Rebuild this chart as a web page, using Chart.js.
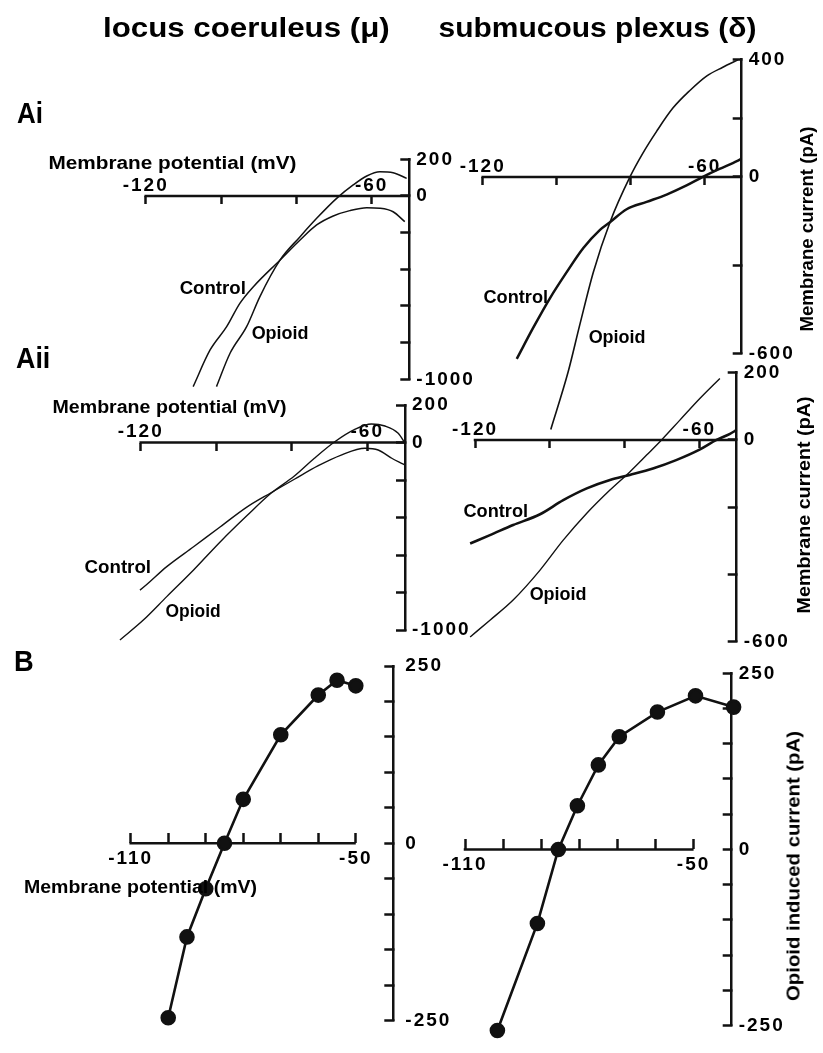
<!DOCTYPE html>
<html>
<head>
<meta charset="utf-8">
<script src="https://cdn.jsdelivr.net/npm/chart.js@4.4.1/dist/chart.umd.min.js"></script>
<style>
html, body { margin: 0; padding: 0; background: #fff; }
#page { position: relative; width: 823px; height: 1053px; overflow: hidden; background: #fff; }
#page canvas { position: absolute; left: 0; top: 0; }
.lbl { position: absolute; white-space: nowrap; font-family: 'Liberation Sans', Arial, sans-serif; font-weight: bold; line-height: 1; color: #000; }
</style>
</head>
<body>
<div id="page"></div>
<script>
// membrane potential (mV) / current (pA)

// locus coeruleus, Ai
var lcAiControlMv = [-107.4, -102.9, -98.5, -95.0, -91.4, -84.3, -79.0, -74.6, -70.2, -65.8, -61.3, -57.8, -54.3, -51.2];
var lcAiControlPa = [-1040, -840, -713, -586, -495, -349, -240, -158, -109, -80, -64, -67, -86, -140];
var lcAiOpioidMv = [-101.2, -97.6, -93.2, -89.7, -84.3, -79.0, -74.6, -69.3, -64.9, -61.3, -57.8, -54.3, -50.7];
var lcAiOpioidPa = [-1040, -858, -713, -550, -349, -222, -122, -13, 60, 109, 132, 127, 96];

// submucous plexus, Ai
var spAiControlMv = [-110.8, -106.3, -101.8, -97.3, -92.8, -88.3, -85.6, -81.1, -75.7, -70.3, -64.9, -60.5, -56.0, -52.4, -50.1];
var spAiControlPa = [-619, -512, -412, -324, -242, -180, -154, -110, -85, -60, -29, 0, 27, 47, 61];
var spAiOpioidMv = [-101.6, -96.9, -93.7, -90.1, -85.6, -80.2, -76.7, -73.0, -68.6, -64.0, -59.5, -55.1, -51.0];
var spAiOpioidPa = [-859, -663, -500, -324, -154, 0, 81, 155, 234, 294, 343, 373, 398];

// locus coeruleus, Aii
var lcAiiControlMv = [-125.5, -120.2, -113.1, -106.0, -98.9, -91.7, -85.5, -79.3, -73.1, -66.9, -60.6, -57.1, -53.5, -50.9, -50];
var lcAiiControlPa = [-849, -787, -662, -556, -449, -342, -268, -196, -125, -67, -31, -40, -84, -111, -120];
var lcAiiOpioidMv = [-125.5, -119.3, -113.1, -106.0, -98.9, -91.7, -85.5, -79.3, -74.0, -68.6, -63.3, -58.9, -55.3, -51.8, -50];
var lcAiiOpioidPa = [-1053, -947, -822, -680, -529, -387, -271, -179, -84, 4, 70, 99, 88, 49, -4];

// submucous plexus, Aii
var spAiiControlMv = [-121.3, -116.0, -109.8, -102.6, -96.4, -90.1, -83.9, -78.6, -72.4, -66.2, -59.8, -55.4, -51.8, -50.0];
var spAiiControlPa = [-308, -283, -253, -221, -179, -144, -119, -104, -85, -60, -28, 0, 18, 30];
var spAiiOpioidMv = [-121.3, -116.0, -109.8, -102.6, -96.4, -90.1, -83.9, -78.6, -74.1, -70.1, -65.2, -59.8, -54.5];
var spAiiOpioidPa = [-586, -536, -476, -387, -298, -218, -149, -95, -45, 0, 59, 124, 183];

// B: opioid induced current
var lcBMv = [-100, -95, -90, -85, -80, -70, -60, -55, -50];
var lcBPa = [-246, -132, -64, 0, 62, 153, 209, 230, 222];
var spBMv = [-101.5, -91, -85.5, -80.5, -75, -69.5, -59.5, -49.5, -39.5];
var spBPa = [-257, -105, 0, 62, 120, 160, 195, 218, 202];

// ticks and tick labels
var aTicksMv = [-120, -100, -80, -60];
var aLabelsMv = [-120, -60];
var bTicksMv = [-110, -100, -90, -80, -70, -60, -50];
var bLabelsMv = [-110, -50];
var lcTicksPa = [200, 0, -200, -400, -600, -800, -1000];
var lcLabelsPa = [200, 0, -1000];
var spAiTicksPa = [400, 200, 0, -300, -600];
var spAiLabelsPa = [400, 0, -600];
var spAiiTicksPa = [200, 0, -200, -400, -600];
var spAiiLabelsPa = [200, 0, -600];
var bTicksPa = [250, 200, 150, 100, 50, 0, -50, -100, -150, -200, -250];
var bLabelsPa = [250, 0, -250];

var W = 823, H = 1053, YAXIS_W = 72;
var page = document.getElementById('page');

Chart.defaults.font.family = "'Liberation Sans', Arial, sans-serif";
Chart.defaults.font.size = 19;
Chart.defaults.font.weight = 'bold';
Chart.defaults.color = '#000';

function pts(xs, ys) {
	return xs.map(function(x, i) { return {x: x, y: ys[i]}; });
}

function trace(xs, ys, width) {
	return {data: pts(xs, ys), borderColor: '#111', borderWidth: width, pointRadius: 0,
		cubicInterpolationMode: 'monotone', clip: false, fill: false};
}

function dots(xs, ys) {
	return {data: pts(xs, ys), borderColor: '#111', borderWidth: 2.6, tension: 0,
		pointRadius: 6.5, pointBackgroundColor: '#111', pointBorderColor: '#111', clip: false, fill: false};
}

//wide tick lettering like the original
var spacing = {id: 'spacing', beforeDraw: function(chart) { chart.ctx.letterSpacing = '2px'; }};

//x axis line drawn at zero between two potentials
function axisLine(from, to) {
	return {
		id: 'axisLine',
		beforeDatasetsDraw: function(chart) {
			var xs = chart.scales.x, y0 = chart.scales.y.getPixelForValue(0), c = chart.ctx;
			c.save();
			c.strokeStyle = '#111';
			c.lineWidth = 2.5;
			c.beginPath();
			c.moveTo(xs.getPixelForValue(from) - 1.25, y0);
			c.lineTo(xs.getPixelForValue(to), y0);
			c.stroke();
			c.restore();
		}
	};
}

function only(list) {
	return function(v) { return list.indexOf(v) >= 0 ? String(v) : ''; };
}

function panel(p) {
	var cv = document.createElement('canvas');
	cv.width = W;
	cv.height = H;
	page.appendChild(cv);
	return new Chart(cv, {
		type: 'line',
		data: {datasets: p.sets},
		options: {
			responsive: false, animation: false, events: [],
			layout: {padding: {left: p.box[0], top: p.box[1], right: W - p.box[2] - YAXIS_W, bottom: H - p.box[3]}},
			plugins: {legend: {display: false}, tooltip: {enabled: false}},
			scales: {
				x: {
					type: 'linear', position: {y: 0}, min: p.xMin, max: p.xMax,
					border: {display: false},
					grid: {drawOnChartArea: false, tickLength: p.xTick, tickWidth: 2.5, tickColor: '#111'},
					ticks: {autoSkip: false, maxRotation: 0, padding: p.xPad, callback: only(p.xLabels)},
					afterBuildTicks: function(s) { s.ticks = p.xTicks.map(function(v) { return {value: v}; }); }
				},
				y: {
					type: 'linear', position: 'right', min: p.yMin, max: p.yMax,
					border: {display: true, color: '#111', width: 2.5},
					grid: {drawOnChartArea: false, tickLength: -9, tickWidth: 2.5, tickColor: '#111'},
					ticks: {autoSkip: false, padding: p.yGap + 9, callback: only(p.yLabels)},
					afterBuildTicks: function(s) { s.ticks = p.yTicks.map(function(v) { return {value: v}; }); },
					afterFit: function(s) { s.width = YAXIS_W; }
				}
			}
		},
		plugins: [spacing, axisLine(p.xTicks[0], p.lineEnd)]
	});
}

// A panels: ticks down, labels above the axis
var aPad = -10.5 - 8 - 11.4;
// B panels: ticks up, labels below
var bPad = 15 + 10 - 11.4;

panel({box: [145.7, 159.3, 409.3, 379.3], xMin: -120, xMax: -50, yMin: -1000, yMax: 200,
	xTicks: aTicksMv, xLabels: aLabelsMv, yTicks: lcTicksPa, yLabels: lcLabelsPa,
	xTick: 8, xPad: aPad, yGap: 7, lineEnd: -50,
	sets: [trace(lcAiControlMv, lcAiControlPa, 1.5), trace(lcAiOpioidMv, lcAiOpioidPa, 1.5)]});

panel({box: [482.7, 59.3, 741.7, 353.3], xMin: -120, xMax: -50, yMin: -600, yMax: 400,
	xTicks: aTicksMv, xLabels: aLabelsMv, yTicks: spAiTicksPa, yLabels: spAiLabelsPa,
	xTick: 8, xPad: aPad, yGap: 7, lineEnd: -50,
	sets: [trace(spAiControlMv, spAiControlPa, 2.5), trace(spAiOpioidMv, spAiOpioidPa, 1.6)]});

panel({box: [140.7, 405, 405, 630], xMin: -120, xMax: -50, yMin: -1000, yMax: 200,
	xTicks: aTicksMv, xLabels: aLabelsMv, yTicks: lcTicksPa, yLabels: lcLabelsPa,
	xTick: 8, xPad: aPad, yGap: 7, lineEnd: -50,
	sets: [trace(lcAiiControlMv, lcAiiControlPa, 1.4), trace(lcAiiOpioidMv, lcAiiOpioidPa, 1.4)]});

panel({box: [475, 372.7, 736.7, 641.7], xMin: -120, xMax: -50, yMin: -600, yMax: 200,
	xTicks: aTicksMv, xLabels: aLabelsMv, yTicks: spAiiTicksPa, yLabels: spAiiLabelsPa,
	xTick: 8, xPad: aPad, yGap: 7, lineEnd: -50,
	sets: [trace(spAiiControlMv, spAiiControlPa, 2.6), trace(spAiiOpioidMv, spAiiOpioidPa, 1.4)]});

panel({box: [130.7, 666, 393.3, 1039.3], xMin: -110, xMax: -40, yMin: -250, yMax: 250,
	xTicks: bTicksMv, xLabels: bLabelsMv, yTicks: bTicksPa, yLabels: bLabelsPa,
	xTick: -10, xPad: bPad, yGap: 12, lineEnd: -50,
	sets: [dots(lcBMv, lcBPa)]});

panel({box: [465, 673.3, 731.7, 1045], xMin: -110, xMax: -40, yMin: -250, yMax: 250,
	xTicks: bTicksMv, xLabels: bLabelsMv, yTicks: bTicksPa, yLabels: bLabelsPa,
	xTick: -10, xPad: bPad, yGap: 7, lineEnd: -50,
	sets: [dots(spBMv, spBPa)]});

//text: [text, centre x, centre y, width, font size, rotation]
var texts = [
	['locus coeruleus (\u03bc)', 246.5, 28, 287, 28],
	['submucous plexus (\u03b4)', 597, 28, 318, 28],
	['Ai', 30, 113, 26, 30],
	['Aii', 33, 358, 34, 30],
	['B', 24, 661, 20, 30],
	['Membrane potential (mV)', 172.5, 163, 248, 18],
	['Membrane potential (mV)', 169, 407, 234, 18],
	['Membrane potential (mV)', 140, 887, 233, 18],
	['Membrane current (pA)', 807, 229, 205, 18, -90],
	['Membrane current (pA)', 804, 505, 217, 18, -90],
	['Opioid induced current (pA)', 793, 866, 270, 18, -90],
	['Control', 213.3, 287.7, 66.7, 19],
	['Opioid', 280, 332.5, 56.7, 19],
	['Control', 516, 296.7, 65, 19],
	['Opioid', 616.7, 336.7, 56.7, 19],
	['Control', 117.5, 566.7, 67, 19],
	['Opioid', 192.5, 610, 55, 19],
	['Control', 495.8, 510, 65, 19],
	['Opioid', 558.3, 593.3, 56.7, 19]
];

texts.forEach(function(t) {
	var d = document.createElement('div');
	d.className = 'lbl';
	d.textContent = t[0];
	d.style.fontSize = t[4] + 'px';
	page.appendChild(d);
	var w = d.offsetWidth, h = d.offsetHeight;
	d.style.left = (t[1] - w / 2) + 'px';
	d.style.top = (t[2] - h / 2) + 'px';
	d.style.transform = (t[5] ? 'rotate(' + t[5] + 'deg) ' : '') + 'scaleX(' + (t[3] / w) + ')';
});
</script>
</body>
</html>
